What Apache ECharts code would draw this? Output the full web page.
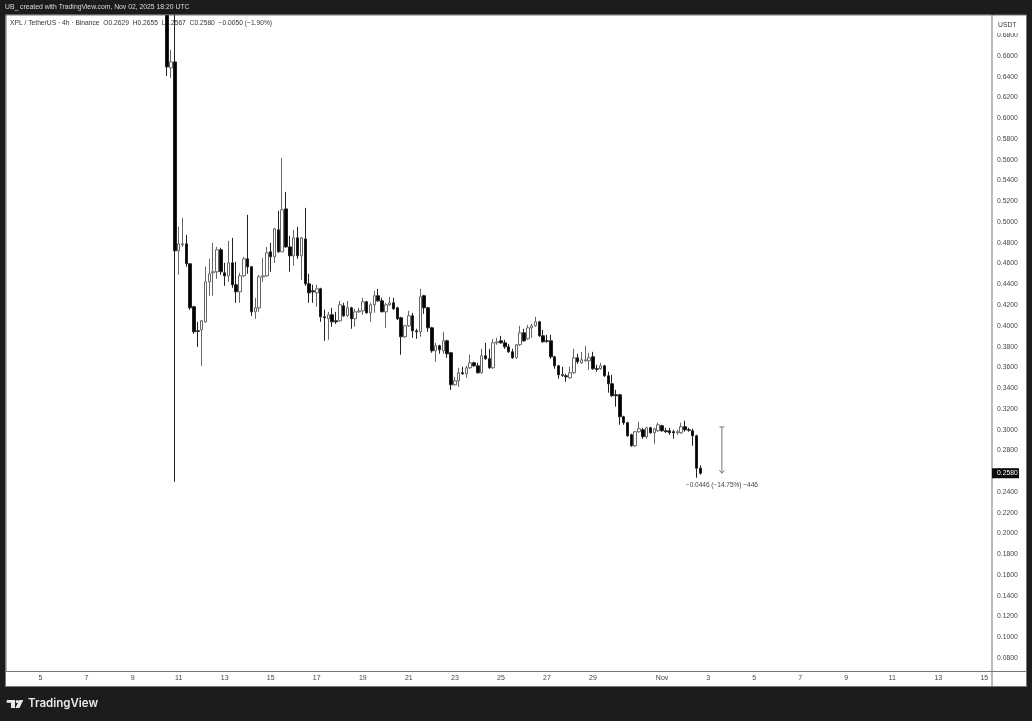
<!DOCTYPE html>
<html>
<head>
<meta charset="utf-8">
<title>XPL / TetherUS</title>
<script src="https://cdn.jsdelivr.net/npm/echarts@6/dist/echarts.min.js"></script>
<style>
    html, body { margin: 0; padding: 0; background: #1c1c1c; }
    #chart { width: 1032px; height: 721px; }
</style>
</head>
<body>
<div id="chart"></div>
<script>
// 4h candles, Oct 10 12:00 to Nov 2 16:00
// first and third candle run off the top of the scale, so they stop at the scale top here
const opens = [
    .6990,.6485,.6543,.4723,.4781,.4790,.4598,.4184,.3952,.3962,
    .4039,.4424,.4511,.4521,.4733,.4511,.4482,.4607,.4396,.4328,
    .4482,.4646,.4569,.4135,.4174,.4472,.4482,.4713,.4665,.4925,
    .4713,.5127,.4761,.4675,.4848,.4675,.4838,.4405,.4338,.4318,
    .4357,.4087,.4068,.4107,.4049,.4049,.4193,.4097,.4174,.4068,
    .4135,.4145,.4232,.4126,.4203,.4290,.4241,.4135,.4203,.4222,
    .4174,.4078,.3895,.4001,.4097,.3952,.3943,.4290,.4174,.3981,
    .3760,.3808,.3760,.3856,.3741,.3432,.3471,.3548,.3538,.3596,
    .3644,.3615,.3548,.3712,.3683,.3596,.3837,.3856,.3837,.3798,
    .3750,.3692,.3818,.3933,.3875,.3981,.4001,.4039,.3904,.3856,
    .3856,.3702,.3615,.3529,.3519,.3500,.3548,.3692,.3644,.3664,
    .3664,.3702,.3587,.3587,.3615,.3519,.3442,.3336,.3336,.3124,
    .3067,.2951,.2845,.2980,.2999,.2932,.3018,.2970,.2989,.3038,
    .2989,.2989,.2980,.2970,.2970,.3028,.2999,.2989,.2941,.2629
];
const closes = [
    .6495,.6543,.4723,.4790,.4790,.4598,.4174,.3943,.3947,.4049,
    .4424,.4501,.4521,.4733,.4521,.4482,.4607,.4396,.4328,.4482,
    .4646,.4569,.4135,.4174,.4472,.4482,.4704,.4665,.4935,.4713,
    .5118,.4761,.4675,.4848,.4675,.4848,.4405,.4318,.4328,.4357,
    .4087,.4078,.4107,.4039,.4039,.4203,.4097,.4174,.4068,.4135,
    .4145,.4232,.4126,.4203,.4290,.4241,.4135,.4203,.4222,.4164,
    .4068,.3895,.4001,.4097,.3952,.3943,.4280,.4174,.3981,.3760,
    .3808,.3770,.3856,.3731,.3432,.3471,.3548,.3538,.3596,.3644,
    .3615,.3548,.3712,.3683,.3596,.3837,.3847,.3837,.3798,.3750,
    .3692,.3818,.3933,.3856,.3981,.4001,.4039,.3904,.3847,.3851,
    .3702,.3615,.3529,.3524,.3509,.3548,.3692,.3654,.3673,.3673,
    .3692,.3587,.3582,.3615,.3519,.3442,.3327,.3327,.3124,.3067,
    .2941,.2845,.2980,.3009,.2932,.3018,.2970,.3009,.3047,.2989,
    .2980,.2970,.2970,.2980,.3028,.2999,.2994,.2941,.2629,.2580
];
const highs = [
    .6995,.6659,.6995,.4954,.5041,.4877,.4598,.4193,.4039,.4058,
    .4569,.4646,.4800,.4761,.4752,.4607,.4819,.4848,.4617,.4511,
    .4665,.5070,.4578,.4270,.4492,.4655,.4761,.4800,.4944,.5108,
    .5618,.5291,.4867,.4925,.4954,.4858,.5137,.4501,.4396,.4396,
    .4367,.4155,.4135,.4174,.4135,.4241,.4222,.4241,.4184,.4164,
    .4174,.4270,.4241,.4222,.4338,.4357,.4270,.4222,.4280,.4270,
    .4184,.4087,.4010,.4145,.4126,.3972,.4357,.4299,.4184,.3991,
    .3837,.3818,.3943,.3866,.3750,.3509,.3596,.3606,.3615,.3721,
    .3654,.3644,.3779,.3837,.3779,.3875,.3885,.3904,.3866,.3827,
    .3779,.3827,.4001,.3972,.4010,.4020,.4087,.4049,.3962,.3914,
    .3914,.3712,.3625,.3606,.3538,.3606,.3779,.3731,.3750,.3808,
    .3741,.3750,.3625,.3644,.3625,.3558,.3529,.3384,.3346,.3134,
    .3076,.2961,.2989,.3076,.3018,.3028,.3028,.3018,.3067,.3047,
    .3018,.3018,.2999,.2999,.3067,.3086,.3018,.3009,.2951,.2655
];
const lows = [
    .6408,.6389,.2498,.4492,.4761,.4569,.4155,.3924,.3798,.3615,
    .4030,.4290,.4290,.4453,.4492,.4386,.4424,.4367,.4222,.4222,
    .4472,.4501,.4097,.4068,.4135,.4424,.4472,.4521,.4607,.4704,
    .4713,.4752,.4521,.4578,.4646,.4444,.4386,.4222,.4222,.4184,
    .4039,.3856,.3866,.3991,.4020,.4039,.4087,.4087,.3972,.3991,
    .4126,.4107,.4116,.4039,.4126,.4232,.4135,.3981,.4193,.4155,
    .4058,.3721,.3885,.3991,.3885,.3875,.3895,.4116,.3943,.3741,
    .3654,.3731,.3731,.3692,.3384,.3423,.3413,.3529,.3500,.3587,
    .3606,.3540,.3540,.3673,.3587,.3587,.3818,.3827,.3779,.3741,
    .3683,.3683,.3808,.3847,.3866,.3885,.3991,.3895,.3837,.3837,
    .3683,.3587,.3490,.3509,.3461,.3490,.3538,.3635,.3635,.3654,
    .3577,.3577,.3558,.3577,.3509,.3356,.3317,.3221,.3047,.3047,
    .2932,.2835,.2835,.2970,.2912,.2912,.2961,.2864,.2980,.2980,
    .2970,.2951,.2912,.2951,.2961,.2980,.2980,.2845,.2537,.2567
];

// x axis: one slot per 4h bar, the first slot is Oct 3 12:00
const slotCount = 258;
const firstBarSlot = 42;
const tickSlots = [9, 21, 33, 45, 57, 69, 81, 93, 105, 117, 129, 141, 153, 171, 183, 195, 207, 219, 231, 243, 255];
const tickLabels = ['5', '7', '9', '11', '13', '15', '17', '19', '21', '23', '25', '27', '29', 'Nov', '3', '5', '7', '9', '11', '13', '15'];
const priceTicks = [0.08, 0.10, 0.12, 0.14, 0.16, 0.18, 0.20, 0.22, 0.24, 0.26, 0.28, 0.30, 0.32, 0.34, 0.36,
    0.38, 0.40, 0.42, 0.44, 0.46, 0.48, 0.50, 0.52, 0.54, 0.56, 0.58, 0.60, 0.62, 0.64, 0.66, 0.68];

// measure tool drawn next to the last candle
const measureSlot = 186.6;
const measureFrom = 0.3026;
const measureTo = 0.2580;
const measureText = '\u22120.0446 (\u221214.75%) \u2212446';
const lastPrice = 0.2580;

const headerText = 'UB_ created with TradingView.com, Nov 02, 2025 18:20 UTC';
const legendText = 'XPL / TetherUS \u00b7 4h \u00b7 Binance  O0.2629  H0.2655  L0.2567  C0.2580  \u22120.0050 (\u22121.90%)';

const font = '"Liberation Sans", Arial, sans-serif';
const textColor = '#444';

const categories = [];
for (let i = 0; i < slotCount; i++) {
    const pos = tickSlots.indexOf(i);
    categories.push(pos >= 0 ? tickLabels[pos] : 'slot' + i);
}

const candles = new Array(firstBarSlot).fill('-');
opens.forEach((o, i) => {
    candles.push([o, closes[i], lows[i], highs[i]]);
});

const chart = echarts.init(document.getElementById('chart'));

const option = {
    animation: false,
    backgroundColor: '#1c1c1c',
    title: [{
        text: headerText,
        left: 5,
        top: 4,
        padding: 0,
        z: 1,
        textStyle: { color: '#dcdcdc', fontSize: 6.8, fontWeight: 'normal', fontFamily: font }
    }, {
        text: legendText,
        left: 10,
        top: 19.5,
        padding: 0,
        z: 1,
        textStyle: { color: '#333', fontSize: 6.7, fontWeight: 'normal', fontFamily: font }
    }],
    grid: {
        left: 6,
        right: 40,
        top: 15,
        bottom: 49.5,
        show: true,
        backgroundColor: '#fff',
        borderColor: '#777',
        borderWidth: 1
    },
    xAxis: [{
        type: 'category',
        data: categories,
        boundaryGap: false,
        axisLine: { show: false },
        axisTick: { show: false },
        splitLine: { show: false },
        axisLabel: {
            interval: (index) => tickSlots.indexOf(index) >= 0,
            margin: 3.5,
            color: textColor,
            fontSize: 7,
            fontFamily: font
        }
    }, {
        type: 'value',
        show: false,
        min: 0,
        max: slotCount - 1
    }],
    yAxis: {
        type: 'value',
        position: 'right',
        min: 0.0670,
        max: 0.6995,
        axisLine: { show: false },
        axisTick: { show: false },
        splitLine: { show: false },
        axisLabel: {
            customValues: priceTicks,
            formatter: (v) => v.toFixed(4),
            margin: 5,
            color: textColor,
            fontSize: 6.8,
            fontFamily: font
        }
    },
    series: [{
        type: 'candlestick',
        data: candles,
        barWidth: 3,
        clip: true,
        itemStyle: {
            color: '#fff',
            borderColor: '#666',
            color0: '#000',
            borderColor0: '#222',
            borderWidth: 1
        }
    }, {
        // measure arrow and its label
        type: 'custom',
        xAxisIndex: 1,
        silent: true,
        z: 3,
        data: [[measureSlot, measureFrom, measureTo]],
        renderItem: (params, api) => {
            const top = api.coord([api.value(0), api.value(1)]);
            const bottom = api.coord([api.value(0), api.value(2)]);
            const lineStyle = { stroke: '#777', lineWidth: 1, fill: null };
            return {
                type: 'group',
                children: [
                    { type: 'line', shape: { x1: top[0], y1: top[1], x2: bottom[0], y2: bottom[1] }, style: lineStyle },
                    { type: 'line', shape: { x1: top[0] - 2.5, y1: top[1], x2: top[0] + 2.5, y2: top[1] }, style: lineStyle },
                    { type: 'line', shape: { x1: bottom[0] - 2.5, y1: bottom[1] - 3, x2: bottom[0], y2: bottom[1] }, style: lineStyle },
                    { type: 'line', shape: { x1: bottom[0] + 2.5, y1: bottom[1] - 3, x2: bottom[0], y2: bottom[1] }, style: lineStyle },
                    {
                        type: 'text',
                        style: {
                            text: measureText,
                            x: bottom[0],
                            y: bottom[1] + 12,
                            align: 'center',
                            verticalAlign: 'middle',
                            fill: textColor,
                            font: '6.5px ' + font
                        }
                    }
                ]
            };
        }
    }, {
        // last price tag on the price scale
        type: 'custom',
        xAxisIndex: 1,
        silent: true,
        z: 3,
        data: [[slotCount - 1, lastPrice]],
        renderItem: (params, api) => {
            const p = api.coord([api.value(0), api.value(1)]);
            return {
                type: 'group',
                children: [
                    { type: 'rect', shape: { x: p[0], y: p[1] - 5, width: 27, height: 10 }, style: { fill: '#0a0a0a' } },
                    {
                        type: 'text',
                        style: {
                            text: lastPrice.toFixed(4),
                            x: p[0] + 5,
                            y: p[1],
                            verticalAlign: 'middle',
                            fill: '#fff',
                            font: '6.8px ' + font
                        }
                    }
                ]
            };
        }
    }],
    graphic: [
        // white panel behind both axes, with the scale separators
        { type: 'rect', z: -1, shape: { x: 5.5, y: 15, width: 1021, height: 671.5 }, style: { fill: '#fff', stroke: '#777', lineWidth: 1 } },
        { type: 'line', z: 1, shape: { x1: 992, y1: 671.5, x2: 992, y2: 686.5 }, style: { stroke: '#777', lineWidth: 1 } },
        { type: 'line', z: 1, shape: { x1: 992, y1: 671.5, x2: 1026.5, y2: 671.5 }, style: { stroke: '#777', lineWidth: 1 } },
        // USDT box over the top of the scale
        { type: 'rect', z: 5, shape: { x: 993, y: 16, width: 31, height: 17 }, style: { fill: '#fff' } },
        { type: 'text', z: 6, x: 998, y: 22, style: { text: 'USDT', fill: '#333', font: '6.8px ' + font } },
        // TradingView logo
        { type: 'rect', z: 6, shape: { x: 6.7, y: 700, width: 8.3, height: 2.8 }, style: { fill: '#e8e8e8' } },
        { type: 'rect', z: 6, shape: { x: 11, y: 700, width: 4, height: 8 }, style: { fill: '#e8e8e8' } },
        { type: 'circle', z: 6, shape: { cx: 17.3, cy: 701.5, r: 1.6 }, style: { fill: '#e8e8e8' } },
        { type: 'polygon', z: 6, shape: { points: [[19.4, 700], [23.4, 700], [19.4, 708], [15.4, 708]] }, style: { fill: '#e8e8e8' } },
        { type: 'text', z: 6, x: 28, y: 704, style: { text: 'TradingView', fill: '#e8e8e8', verticalAlign: 'middle', font: '600 11.5px Inter, ' + font } }
    ]
};

chart.setOption(option);
</script>
</body>
</html>
